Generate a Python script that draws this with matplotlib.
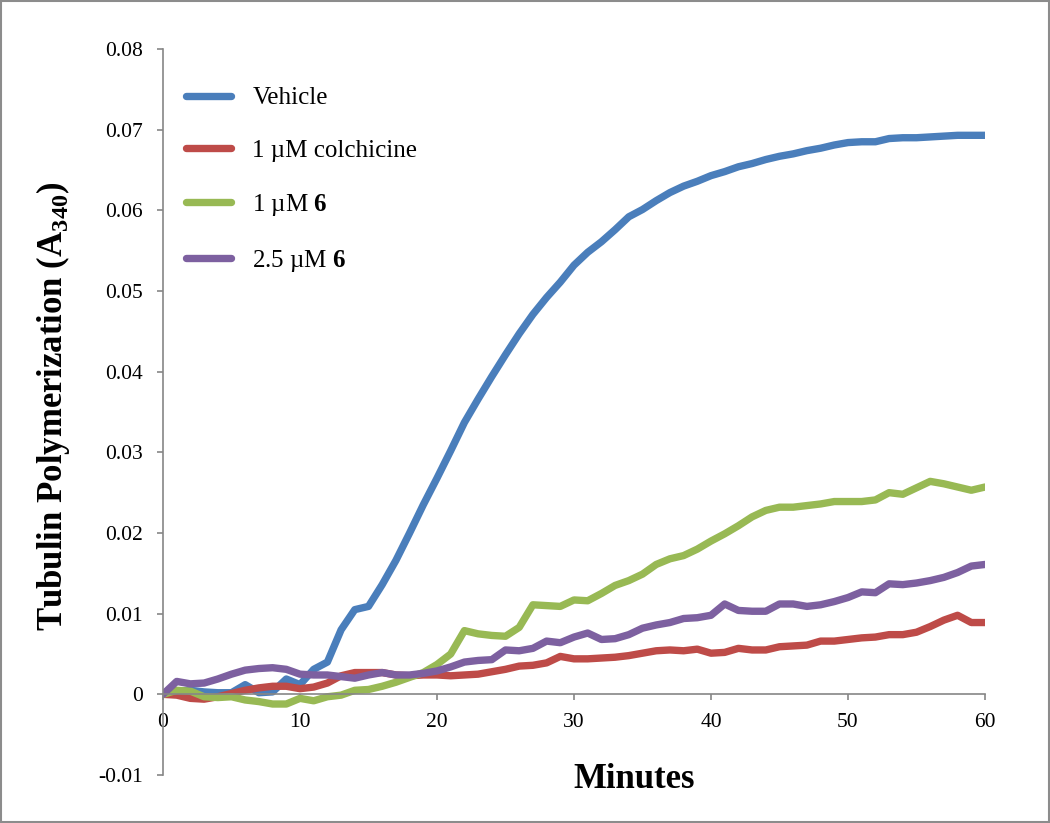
import matplotlib
matplotlib.use('Agg')
import matplotlib.pyplot as plt
from matplotlib.patches import Rectangle

plt.rcParams['font.family'] = ['Liberation Serif', 'DejaVu Serif']
plt.rcParams['mathtext.fontset'] = 'custom'
plt.rcParams['mathtext.rm'] = 'Liberation Serif'
plt.rcParams['mathtext.bf'] = 'Liberation Serif:bold'
plt.rcParams['axes.unicode_minus'] = False

# time in minutes, one reading per minute
minutes = list(range(61))

vehicle = [0, 0.0004, 0.0005, 0.0003, 0.0002, 0.0002, 0.0012, 0.0002, 0.0003, 0.0019,
           0.0012, 0.0031, 0.0040, 0.0080, 0.0105, 0.0109, 0.0136, 0.0166, 0.0200, 0.0235,
           0.0268, 0.0302, 0.0337, 0.0366, 0.0394, 0.0421, 0.0447, 0.0471, 0.0492, 0.0511,
           0.0532, 0.0548, 0.0561, 0.0576, 0.0592, 0.0601, 0.0612, 0.0622, 0.0630, 0.0636,
           0.0643, 0.0648, 0.0654, 0.0658, 0.0663, 0.0667, 0.0670, 0.0674, 0.0677, 0.0681,
           0.0684, 0.0685, 0.0685, 0.0689, 0.0690, 0.0690, 0.0691, 0.0692, 0.0693, 0.0693,
           0.0693]

colchicine = [0, -0.0001, -0.0005, -0.0006, -0.0003, 0.0001, 0.0005, 0.0008, 0.0010, 0.0010,
              0.0007, 0.0009, 0.0014, 0.0023, 0.0027, 0.0027, 0.0027, 0.0024, 0.0023, 0.0024,
              0.0024, 0.0023, 0.0024, 0.0025, 0.0028, 0.0031, 0.0035, 0.0036, 0.0039, 0.0047,
              0.0044, 0.0044, 0.0045, 0.0046, 0.0048, 0.0051, 0.0054, 0.0055, 0.0054, 0.0056,
              0.0051, 0.0052, 0.0057, 0.0055, 0.0055, 0.0059, 0.0060, 0.0061, 0.0066, 0.0066,
              0.0068, 0.0070, 0.0071, 0.0074, 0.0074, 0.0077, 0.0084, 0.0092, 0.0098, 0.0089,
              0.0089]

cpd6_1uM = [0, 0.0005, 0.0004, -0.0003, -0.0004, -0.0003, -0.0007, -0.0009, -0.0012, -0.0012,
            -0.0005, -0.0008, -0.0003, -0.0001, 0.0005, 0.0006, 0.0010, 0.0015, 0.0021, 0.0027,
            0.0037, 0.0050, 0.0079, 0.0075, 0.0073, 0.0072, 0.0083, 0.0111, 0.0110, 0.0109,
            0.0117, 0.0116, 0.0125, 0.0135, 0.0141, 0.0149, 0.0161, 0.0168, 0.0172, 0.0180,
            0.0190, 0.0199, 0.0209, 0.0220, 0.0228, 0.0232, 0.0232, 0.0234, 0.0236, 0.0239,
            0.0239, 0.0239, 0.0241, 0.0250, 0.0248, 0.0256, 0.0264, 0.0261, 0.0257, 0.0253,
            0.0257]

cpd6_25uM = [0, 0.0016, 0.0013, 0.0014, 0.0019, 0.0025, 0.0030, 0.0032, 0.0033, 0.0031,
             0.0025, 0.0024, 0.0024, 0.0022, 0.0020, 0.0024, 0.0027, 0.0024, 0.0024, 0.0026,
             0.0029, 0.0034, 0.0040, 0.0042, 0.0043, 0.0055, 0.0054, 0.0057, 0.0066, 0.0064,
             0.0071, 0.0076, 0.0068, 0.0069, 0.0074, 0.0082, 0.0086, 0.0089, 0.0094, 0.0095,
             0.0098, 0.0112, 0.0104, 0.0103, 0.0103, 0.0112, 0.0112, 0.0109, 0.0111, 0.0115,
             0.0120, 0.0127, 0.0126, 0.0137, 0.0136, 0.0138, 0.0141, 0.0145, 0.0151, 0.0159,
             0.0161]

labels = ['Vehicle', '1 µM colchicine', r'1 µM $\mathbf{6}$', r'2.5 µM $\mathbf{6}$']
colors = ['#4a7ebb', '#be4b48', '#98b954', '#7d60a0']
series = [vehicle, colchicine, cpd6_1uM, cpd6_25uM]

fig = plt.figure(figsize=(10.5, 8.23), dpi=100)
ax = fig.add_axes([163/1050, 1 - 775/823, (985 - 163)/1050, (775 - 49)/823])

for y, lab, c in zip(series, labels, colors):
    ax.plot(minutes, y, color=c, lw=5.3, label=lab,
            solid_capstyle='round', solid_joinstyle='round')

ax.set_xlim(0, 60)
ax.set_ylim(-0.01, 0.08)
ax.set_xticks(range(0, 61, 10))
ax.set_yticks([i / 100 for i in range(-1, 9)])
ax.yaxis.set_major_formatter(matplotlib.ticker.FuncFormatter(lambda v, p: f'{v:g}' if abs(v) > 1e-9 else '0'))

gray = '#868686'
ax.spines['top'].set_visible(False)
ax.spines['right'].set_visible(False)
ax.spines['bottom'].set_position(('data', 0))
for s in ['left', 'bottom']:
    ax.spines[s].set_color(gray)
    ax.spines[s].set_linewidth(1.2)
ax.tick_params(axis='both', colors=gray, labelcolor='black', labelsize=15.5,
               direction='out', length=4.5, width=1.2)
ax.tick_params(axis='y', pad=10)
ax.tick_params(axis='x', pad=9)

ax.set_ylabel(r'Tubulin Polymerization (A$_{\mathbf{340}}$)', fontsize=25,
              fontweight='bold')
ax.yaxis.set_label_coords(-(163 - 72)/822, (775 - 406)/726)
fig.text(634/1050, 1 - 780/823, 'Minutes', fontsize=25, fontweight='bold',
         ha='center', va='center')

leg = ax.legend(loc='upper left', bbox_to_anchor=(186/1050, 1 - 87/823),
                bbox_transform=fig.transFigure, frameon=False, fontsize=18,
                handlelength=1.8, handletextpad=0.85, labelspacing=1.2,
                borderaxespad=0, borderpad=0)
for h in leg.get_lines():
    h.set_solid_capstyle('round')

fig.patches.append(Rectangle((0.001, 0.001), 0.998, 0.998, transform=fig.transFigure,
                             fill=False, edgecolor='#8c8c8c', lw=1.5))

fig.savefig('out.png', dpi=100)
